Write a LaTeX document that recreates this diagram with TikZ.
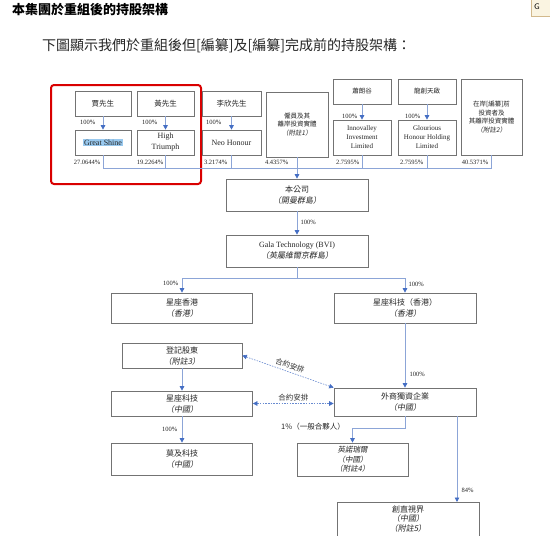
\documentclass[tikz,border=0pt]{standalone}
\usepackage{fontspec}
\setmainfont{Liberation Serif}
\newfontfamily\cjk{Noto Sans CJK TC}
\newfontfamily\cjkit[FakeSlant=0.18]{Noto Sans CJK TC}
\usetikzlibrary{arrows.meta}
\definecolor{lb}{RGB}{140,165,215}
\definecolor{tipb}{RGB}{68,110,196}
\definecolor{bx}{RGB}{115,115,115}
\definecolor{hl}{RGB}{153,201,239}
\definecolor{gbox}{RGB}{250,244,225}
\definecolor{gbord}{RGB}{210,185,140}
\begin{document}
\begin{tikzpicture}[x=1pt,y=-1pt,
  box/.style={draw=bx,line width=0.7pt,fill=white,inner sep=1pt,align=center,text=black!85},
  ck/.style={font=\cjk\fontsize{8}{11}\selectfont},
  cks/.style={font=\cjk\fontsize{6.5}{8.5}\selectfont},
  en/.style={font=\fontsize{8}{11}\selectfont},
  ens/.style={font=\fontsize{7.5}{9.5}\selectfont},
  pct/.style={font=\fontsize{6.5}{7}\selectfont,inner sep=0.5pt,text=black!85},
  conn/.style={draw=lb,line width=0.8pt},
  arr/.style={conn,-{Triangle[length=4.5pt,width=4.5pt,color=tipb,fill=tipb]}},
  dsh/.style={draw=tipb!80,line width=0.6pt,dash pattern=on 1.5pt off 1.2pt,
     {Triangle[length=4.5pt,width=4.5pt,color=tipb,fill=tipb]}-{Triangle[length=4.5pt,width=4.5pt,color=tipb,fill=tipb]}}
]
\useasboundingbox (0,0) rectangle (550,536);
\fill[white] (0,0) rectangle (550,536);

% header
\node[anchor=west,font=\cjk\bfseries\fontsize{13}{15}\selectfont,inner sep=0] (title) at (12,10) {本集團於重組後的持股架構};
\node[anchor=west,font=\cjk\fontsize{14}{16}\selectfont,inner sep=0,text=black!85] (sub) at (42,46) {下圖顯示我們於重組後但[編纂]及[編纂]完成前的持股架構：};
\node[draw=gbord,fill=gbox,minimum width=20pt,minimum height=17pt,anchor=north west,inner sep=0] (gicon) at (531,-1) {};
\node[font=\sffamily\fontsize{8}{9}\selectfont,inner sep=0] (gtxt) at (537,7) {G};

% red highlight frame
\draw[red!85!black,line width=2pt,rounded corners=3pt] (51,85) rectangle (201,184);

% top row
\node[box,ck,font=\cjk\fontsize{7.5}{9}\selectfont,minimum width=56pt,minimum height=25pt] (jia) at (103,103.5) {賈先生};
\node[box,ck,font=\cjk\fontsize{7.5}{9}\selectfont,minimum width=57pt,minimum height=25pt] (huang) at (165.5,103.5) {黃先生};
\node[box,ck,font=\cjk\fontsize{7.5}{9}\selectfont,minimum width=59pt,minimum height=25pt] (li) at (231.5,103.5) {李欣先生};
\node[box,en,minimum width=56pt,minimum height=25pt] (gs) at (103,142.5) {};
\node[fill=hl,en,inner sep=1pt,text=black!85] (gstxt) at (103,142.5) {Great Shine};
\node[box,en,minimum width=57pt,minimum height=25pt] (ht) at (165.5,142.5) {High\\Triumph};
\node[box,en,minimum width=59pt,minimum height=25pt] (neo) at (231.5,142.5) {Neo Honour};
\node[box,cks,minimum width=62pt,minimum height=65pt] (emp) at (297,124.5) {僱員及其\\離岸投資實體\\{\cjkit（附註1）}};
\node[box,cks,minimum width=58pt,minimum height=25pt] (xiao) at (362,91.5) {蕭朗谷};
\node[box,cks,minimum width=58pt,minimum height=25pt] (long) at (427,91.5) {龍創天啟};
\node[box,ens,font=\fontsize{7}{9}\selectfont,minimum width=58pt,minimum height=35pt] (inno) at (362,137.5) {Innovalley\\Investment\\Limited};
\node[box,ens,font=\fontsize{7}{9}\selectfont,minimum width=58pt,minimum height=35pt] (glo) at (427,137.5) {Glourious\\Honour Holding\\Limited};
\node[box,cks,minimum width=61pt,minimum height=76pt] (ons) at (491.5,117) {在岸[編纂]前\\投資者及\\其離岸投資實體\\{\cjkit（附註2）}};

\draw[arr] (jia) -- (gs);
\draw[arr] (huang) -- (ht);
\draw[arr] (li) -- (neo);
\draw[arr] (xiao) -- (inno);
\draw[arr] (long) -- (glo);
\node[pct,anchor=east] (p1) at (96,122) {100\%};
\node[pct,anchor=east] (p2) at (158,122) {100\%};
\node[pct,anchor=east] (p3) at (222,122) {100\%};
\node[pct,anchor=east] (p4) at (358,116) {100\%};
\node[pct,anchor=east] (p5) at (421,116) {100\%};

% collector bus
\coordinate (bus) at (297,168);
\draw[conn] (gs.south) -- (gs.south |- bus) -- (ons.south |- bus) -- (ons.south);
\foreach \n in {ht,neo,inno,glo} \draw[conn] (\n.south) -- (\n.south |- bus);
\node[pct,anchor=east] (q1) at (101,162) {27.0644\%};
\node[pct,anchor=east] (q2) at (164,162) {19.2264\%};
\node[pct,anchor=east] (q3) at (228,162) {3.2174\%};
\node[pct,anchor=east] (q4) at (289,162) {4.4357\%};
\node[pct,anchor=east] (q5) at (360,162) {2.7595\%};
\node[pct,anchor=east] (q6) at (424,162) {2.7595\%};
\node[pct,anchor=east] (q7) at (489,162) {40.5371\%};

% company
\node[box,ck,minimum width=142pt,minimum height=32pt] (co) at (297,195) {本公司\\{\cjkit（開曼群島）}};
\draw[arr] (emp.south) -- (co.north);
\node[box,en,minimum width=142pt,minimum height=32pt] (gala) at (297,251) {Gala Technology (BVI)\\{\cjkit\fontsize{8}{11}\selectfont（英屬維爾京群島）}};
\draw[arr] (co.south) -- (gala.north);
\node[pct,anchor=west] (p6) at (300,222) {100\%};

% second level
\node[box,ck,minimum width=141pt,minimum height=30pt] (hk) at (182,308) {星座香港\\{\cjkit（香港）}};
\node[box,ck,minimum width=142pt,minimum height=30pt] (hkt) at (405,308) {星座科技（香港）\\{\cjkit（香港）}};
\coordinate (split) at (297,278);
\draw[conn] (gala.south) -- (split);
\draw[arr] (split) -| (hk.north);
\draw[arr] (split) -| (hkt.north);
\node[pct,anchor=east] (p7) at (179,283) {100\%};
\node[pct,anchor=west] (p8) at (408,284) {100\%};

% third level
\node[box,ck,minimum width=120pt,minimum height=25pt] (reg) at (182,355.5) {登記股東\\{\cjkit（附註3）}};
\node[box,ck,minimum width=141pt,minimum height=25pt] (cnt) at (182,403.5) {星座科技\\{\cjkit（中國）}};
\node[box,ck,minimum width=142pt,minimum height=28pt] (wfoe) at (405,402) {外商獨資企業\\{\cjkit（中國）}};
\draw[arr] (reg) -- (cnt);
\draw[arr] (hkt) -- (wfoe);
\node[pct,anchor=west] (p9) at (409,374) {100\%};
\draw[dsh] (reg.east) -- (wfoe.north west) node[midway,sloped,above=2.5pt,font=\cjk\fontsize{7.5}{9}\selectfont,text=black!80,inner sep=0pt] (ca1) {合約安排};
\draw[dsh] (cnt.east) -- (cnt.east -| wfoe.west) node[midway,above,font=\cjk\fontsize{7.5}{9}\selectfont,text=black!80,inner sep=2pt] (ca2) {合約安排};

% bottom level
\node[box,ck,minimum width=141pt,minimum height=32pt] (qj) at (182,459) {莫及科技\\{\cjkit（中國）}};
\draw[arr] (cnt) -- (qj);
\node[pct,anchor=east] (p10) at (178,429) {100\%};

\node[box,ck,font=\cjkit\fontsize{7.5}{9.5}\selectfont,minimum width=111pt,minimum height=33pt] (ying) at (352.5,459.5) {英諾瑞爾\\（中國）\\（附註4）};
\draw[arr] (wfoe.south) -- ++(0,12) -| (ying.north);
\node[anchor=west,font=\cjk\fontsize{7.5}{9}\selectfont,inner sep=0,text=black!85] (gp) at (281,427) {1\%（一般合夥人）};

\node[box,minimum width=142pt,minimum height=50pt,anchor=north] (cz) at (408,502) {};
\node[align=center,font=\cjk\fontsize{8}{9.5}\selectfont,text=black!85] (cztxt) at (408,519) {創直視界\\{\cjkit（中國）}\\{\cjkit（附註5）}};
\draw[arr] ([xshift=52pt]wfoe.south) -- ([xshift=52pt]wfoe.south |- cz.north);
\node[pct,anchor=west] (p11) at (461,490) {84\%};
\end{tikzpicture}
\end{document}
